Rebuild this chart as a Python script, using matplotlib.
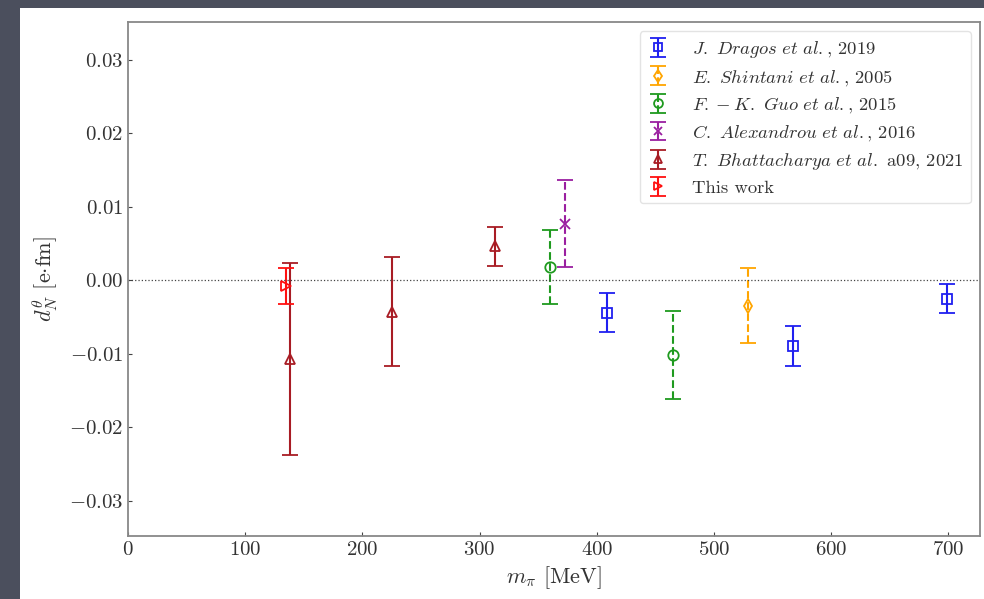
import matplotlib
matplotlib.use("Agg")
import matplotlib.pyplot as plt
from matplotlib.patches import Rectangle

plt.rcParams['font.family'] = 'serif'
plt.rcParams['font.serif'] = ['cmr10']
plt.rcParams['mathtext.fontset'] = 'cm'
plt.rcParams['axes.formatter.use_mathtext'] = True

# data: m_pi [MeV], d_N [e fm], error
dragos_m = [409, 567, 699]
dragos_d = [-0.0044, -0.0089, -0.0025]
dragos_err = [0.0026, 0.0027, 0.0020]

shintani_m = [529]
shintani_d = [-0.0035]
shintani_err = [0.0051]

guo_m = [360, 465]
guo_d = [0.0018, -0.0102]
guo_err = [0.0050, 0.0060]

alex_m = [373]
alex_d = [0.0077]
alex_err = [0.0059]

bhatt_m = [138, 225, 313]
bhatt_d = [-0.0107, -0.0043, 0.0046]
bhatt_err = [0.0131, 0.0074, 0.0027]

this_m = [135]
this_d = [-0.0008]
this_err = [0.0024]

series = [
    (dragos_m, dragos_d, dragos_err, 's', '#2020f0', '-', r"$J.\ Dragos\ et\ al.$, 2019"),
    (shintani_m, shintani_d, shintani_err, 'd', '#ffa500', '--', r"$E.\ Shintani\ et\ al.$, 2005"),
    (guo_m, guo_d, guo_err, 'o', '#1f9a1f', '--', r"$F.-K.\ Guo\ et\ al.$, 2015"),
    (alex_m, alex_d, alex_err, 'x', '#9a1fa0', '--', r"$C.\ Alexandrou\ et\ al.$, 2016"),
    (bhatt_m, bhatt_d, bhatt_err, '^', '#a81c24', '-', r"$T.\ Bhattacharya\ et\ al.$ a09, 2021"),
    (this_m, this_d, this_err, '>', '#ff1010', '-', "This work"),
]

fig = plt.figure(figsize=(9.84, 5.99), dpi=100)
fig.patch.set_facecolor('#4b4f5d')
# white slide area
fig.patches.append(Rectangle((20 / 984, 0), 1, 1 - 8 / 599, transform=fig.transFigure,
                             facecolor='white', edgecolor='none', zorder=-10))

ax = fig.add_axes([0.130, 0.105, 0.866, 0.858])
ax.set_zorder(1)

for m, d, err, mk, col, ls, lab in series:
    eb = ax.errorbar(m, d, yerr=err, fmt=mk, color=col, mfc='none', mec=col,
                     ms=7.5, mew=1.3, elinewidth=1.5, capsize=6, capthick=1.5,
                     label=lab)
    eb[2][0].set_linestyle(ls)

ax.axhline(0, color='#444444', ls=':', lw=0.9)

ax.set_xlim(0, 727)
ax.set_ylim(-0.0348, 0.0351)
ax.set_xticks([0, 100, 200, 300, 400, 500, 600, 700])
ax.set_yticks([-0.03, -0.02, -0.01, 0.0, 0.01, 0.02, 0.03])
ax.yaxis.set_major_formatter(matplotlib.ticker.FuncFormatter(lambda v, p: r"$%.2f$" % v))
ax.xaxis.set_major_formatter(matplotlib.ticker.FuncFormatter(lambda v, p: r"$%d$" % v))

ax.tick_params(direction='in', length=3, labelsize=15, colors='#444444', labelcolor='#333333')
for s in ax.spines.values():
    s.set_color('#888888')
    s.set_linewidth(1.3)

ax.set_xlabel(r"$m_\pi$ [MeV]", fontsize=16, color='#333333', labelpad=4)
ax.set_ylabel(r"$d_N^{\theta}$ [e$\cdot$fm]", fontsize=16, color='#333333', labelpad=6)

leg = ax.legend(loc='upper right', fontsize=13.4, frameon=True, borderaxespad=0.5,
                handlelength=1.2, handletextpad=1.2, labelspacing=0.42, markerscale=0.85)
leg.get_frame().set_edgecolor('#dddddd')
for t in leg.get_texts():
    t.set_color('#333333')

fig.savefig("out.png", dpi=100, facecolor=fig.get_facecolor())
